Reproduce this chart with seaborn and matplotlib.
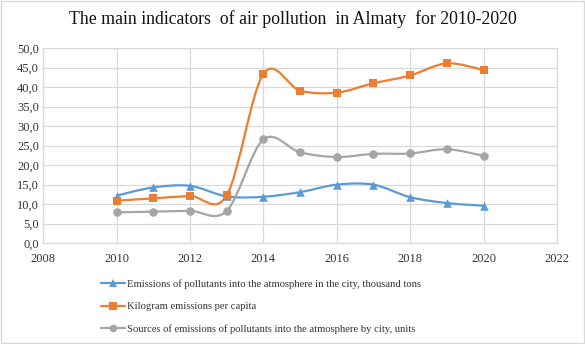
import matplotlib
matplotlib.use("Agg")
import matplotlib.pyplot as plt
from matplotlib.path import Path
from matplotlib.patches import PathPatch, Rectangle
from matplotlib.lines import Line2D
from matplotlib.ticker import FuncFormatter, MultipleLocator
import numpy as np
import pandas as pd
import seaborn as sns

# data
years = [2010, 2011, 2012, 2013, 2014, 2015, 2016, 2017, 2018, 2019, 2020]
emissions_kt = [12.2, 14.3, 14.7, 12.0, 11.9, 13.1, 15.0, 15.0, 11.8, 10.3, 9.6]
kg_per_capita = [10.9, 11.5, 12.1, 12.3, 43.4, 39.1, 38.6, 41.0, 43.0, 46.1, 44.4]
sources_units = [7.9, 8.1, 8.3, 8.3, 26.6, 23.3, 22.1, 22.9, 23.0, 24.1, 22.4]

labels = [
    "Emissions of pollutants into the atmosphere in the city, thousand tons",
    "Kilogram emissions per capita",
    "Sources of emissions of pollutants into the atmosphere by city, units",
]
colors = ["#5B9BD5", "#ED7D31", "#A5A5A5"]
markers = ["^", "s", "o"]

sns.set_style("white")
plt.rcParams["font.family"] = ["Liberation Serif", "DejaVu Serif"]


def smooth_path(xs, ys):
    # Excel-like smoothed line: cubic Bezier segments (Catmull-Rom control points)
    pts = np.column_stack([xs, ys]).astype(float)
    n = len(pts)
    verts = [pts[0]]
    codes = [Path.MOVETO]
    for i in range(n - 1):
        p0 = pts[i - 1] if i > 0 else pts[i]
        p1 = pts[i]
        p2 = pts[i + 1]
        p3 = pts[i + 2] if i + 2 < n else pts[i + 1]
        c1 = p1 + (p2 - p0) / 6.0
        c2 = p2 - (p3 - p1) / 6.0
        verts += [c1, c2, p2]
        codes += [Path.CURVE4] * 3
    return Path(verts, codes)


df = pd.DataFrame({"year": years, "a": emissions_kt, "b": kg_per_capita, "c": sources_units})

fig = plt.figure(figsize=(5.85, 3.44), dpi=100)
ax = fig.add_axes([0.074, 0.293, 0.878, 0.567])

handles = []
for col, lab, c, m in zip(["a", "b", "c"], labels, colors, markers):
    ax.add_patch(PathPatch(smooth_path(df["year"], df[col]), facecolor="none",
                           edgecolor=c, lw=1.6, zorder=3))
    sns.scatterplot(data=df, x="year", y=col, ax=ax, marker=m, color=c, s=38,
                    edgecolor=c, linewidth=0, zorder=4, legend=False)
    handles.append(Line2D([0], [0], color=c, lw=1.6, marker=m, markersize=5.5,
                          markeredgewidth=0))

ax.set_xlim(2008, 2022)
ax.set_ylim(0, 50)
ax.xaxis.set_major_locator(MultipleLocator(2))
ax.yaxis.set_major_locator(MultipleLocator(5))
ax.yaxis.set_major_formatter(FuncFormatter(lambda v, p: f"{v:.1f}".replace(".", ",")))
ax.set_xlabel("")
ax.set_ylabel("")
ax.grid(True, color="#D9D9D9", lw=0.9)
ax.set_axisbelow(True)
for s in ax.spines.values():
    s.set_color("#D9D9D9")
    s.set_linewidth(0.9)
ax.tick_params(axis="both", labelsize=9, colors="#404040", length=0)
ax.tick_params(axis="x", pad=7)
ax.tick_params(axis="y", pad=3)
for t in ax.get_xticklabels() + ax.get_yticklabels():
    t.set_color("#333333")

fig.text(0.5, 0.945, "The main indicators  of air pollution  in Almaty  for 2010-2020",
         ha="center", va="center", fontsize=12.8, color="#111111")

fig.legend(handles, labels, loc="upper left", bbox_to_anchor=(0.165, 0.20),
           frameon=False, fontsize=7.65, labelspacing=1.2, handlelength=2.3,
           handletextpad=0.15, borderaxespad=0, labelcolor="#333333")

fig.patches.append(Rectangle((0.001, 0.002), 0.997, 0.995, transform=fig.transFigure,
                             fill=False, edgecolor="#D9D9D9", lw=1))

fig.savefig("out.png", dpi=100)
